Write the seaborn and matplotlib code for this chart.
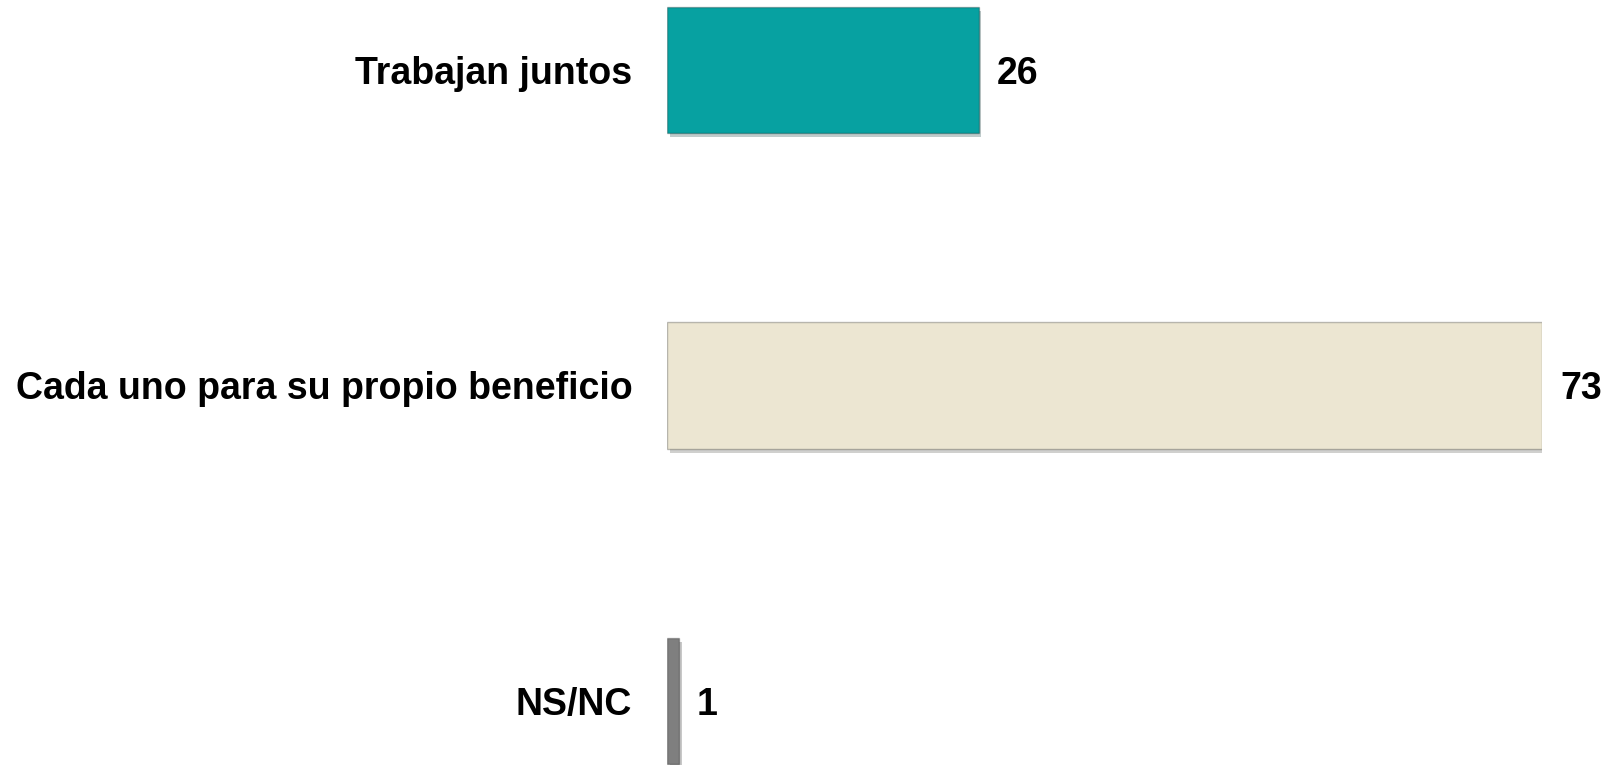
import pandas as pd
import numpy as np
import matplotlib.pyplot as plt
import matplotlib.patheffects as pe
import seaborn as sns

# Datos
categorias = ["Trabajan juntos", "Cada uno para su propio beneficio", "NS/NC"]
valores = [26, 73, 1]
colores = ["#07A1A1", "#ECE6D2", "#7F7F7F"]

data = pd.DataFrame({"categoria": categorias, "valor": valores})

sns.set_style("white")
plt.rcParams['font.family'] = ['Liberation Sans', 'DejaVu Sans']
plt.rcParams['text.color'] = 'black'
plt.rcParams['ytick.color'] = 'black'

fig = plt.figure(figsize=(16.17, 7.65), dpi=100)
ax = fig.add_axes([667 / 1617, 0, 875 / 1617, 1])

sns.barplot(data=data, x="valor", y="categoria", hue="categoria",
            palette=colores, orient="h", width=0.4, legend=False,
            saturation=1, edgecolor="none", ax=ax)

# sombra ligera bajo las barras
for bar in ax.patches:
    bar.set_path_effects([pe.SimplePatchShadow(offset=(2, -3), alpha=0.25), pe.Normal()])
    bar.set_edgecolor("#00000040")
    bar.set_linewidth(1.0)

ax.set_xlim(0, 73)
ax.set_ylim(2.203, -0.222)

# etiquetas de valor
for i, v in enumerate(valores):
    ax.annotate(str(v), xy=(v, i), xytext=(13, 0), textcoords="offset points",
                va="center_baseline", ha="left", fontsize=27, fontweight="bold",
                color="black", annotation_clip=False)

ax.set_yticks(range(len(categorias)))
ax.set_yticklabels(categorias, fontsize=27, fontweight="bold", va="center_baseline")
ax.tick_params(axis="y", length=0, pad=25)
ax.set_xticks([])
ax.set_xlabel("")
ax.set_ylabel("")
sns.despine(ax=ax, left=True, bottom=True)

fig.savefig("out.png", dpi=100)
